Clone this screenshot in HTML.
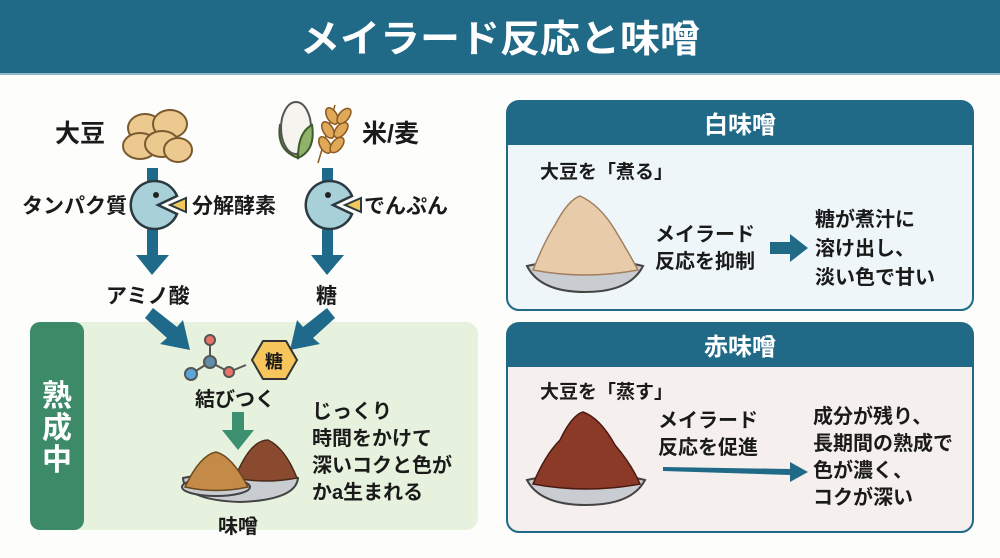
<!DOCTYPE html>
<html><head><meta charset="utf-8"><style>
html,body{margin:0;padding:0;background:#fdfdfb;}
svg{display:block;}
text{font-family:"Liberation Sans","Noto Sans CJK JP",sans-serif;font-weight:bold;fill:#1a1a1a;}
</style></head><body>
<svg width="1000" height="558" viewBox="0 0 1000 558" xmlns="http://www.w3.org/2000/svg">
<rect width="1000" height="558" fill="#fdfdfb"/>
<!-- header -->
<rect x="0" y="0" width="1000" height="73" fill="#206a88"/>
<rect x="0" y="73" width="1000" height="2" fill="#8fb7c6"/>
<text x="500" y="52" text-anchor="middle" font-size="38" style="fill:#fff" textLength="400" lengthAdjust="spacingAndGlyphs">メイラード反応と味噌</text>

<!-- left top labels -->
<text x="55" y="142" font-size="25">大豆</text>
<g stroke="#7a5a30" stroke-width="2" fill="#ecc98f">
<ellipse cx="145" cy="128" rx="17" ry="14"/><ellipse cx="170" cy="124" rx="17" ry="14"/>
<ellipse cx="140" cy="146" rx="17" ry="13"/><ellipse cx="162" cy="144" rx="17" ry="13"/>
<ellipse cx="178" cy="150" rx="14" ry="12"/>
</g>
<!-- rice & wheat -->
<path d="M280 125 Q276 150 298 158 Q296 132 280 125Z" fill="#8fb36a" stroke="#3e5b2c" stroke-width="2"/>
<ellipse cx="296" cy="128" rx="15" ry="26" fill="#f6f4ee" stroke="#555" stroke-width="2"/>
<path d="M312 125 Q316 150 298 158 Q298 132 312 125Z" fill="#8fb36a" stroke="#3e5b2c" stroke-width="2"/>
<g fill="#e0a95a" stroke="#8a5a20" stroke-width="1.5">
<line x1="318" y1="163" x2="335" y2="105" stroke="#8a5a20"/>
<ellipse cx="325" cy="145" rx="5" ry="9" transform="rotate(-30 325 145)"/><ellipse cx="337" cy="145" rx="5" ry="9" transform="rotate(40 337 145)"/>
<ellipse cx="328" cy="130" rx="5" ry="9" transform="rotate(-30 328 130)"/><ellipse cx="341" cy="130" rx="5" ry="9" transform="rotate(40 341 130)"/>
<ellipse cx="332" cy="116" rx="5" ry="9" transform="rotate(-30 332 116)"/><ellipse cx="344" cy="116" rx="5" ry="9" transform="rotate(40 344 116)"/>
</g>
<text x="362" y="142" font-size="25">米/麦</text>

<!-- vertical arrows -->
<g fill="#1f6a8a">
<rect x="147" y="168" width="11" height="90"/><polygon points="136,255 169,255 152,275"/>
<rect x="322" y="168" width="11" height="90"/><polygon points="311,255 344,255 327,275"/>
</g>
<!-- pacmen -->
<g stroke="#2a3a40" stroke-width="2.5">
<path d="M177 196 A24 24 0 1 0 177 214 L158 205 Z" fill="#a7d0d8"/>
<path d="M352 196 A24 24 0 1 0 352 214 L333 205 Z" fill="#a7d0d8"/>
<polygon points="170,205 186,198 186,212" fill="#f3c85a" stroke-width="2"/>
<polygon points="345,205 361,198 361,212" fill="#f3c85a" stroke-width="2"/>
</g>
<circle cx="156" cy="195" r="3" fill="#222"/><circle cx="328" cy="195" r="3" fill="#222"/>
<text x="22" y="213" font-size="21">タンパク質</text>
<text x="192" y="213" font-size="21">分解酵素</text>
<text x="364" y="213" font-size="21">でんぷん</text>
<text x="106" y="303" font-size="21">アミノ酸</text>
<text x="316" y="303" font-size="21">糖</text>

<!-- green box -->
<rect x="30" y="322" width="448" height="208" rx="12" fill="#e6f2de"/>
<rect x="30" y="322" width="54" height="208" rx="10" fill="#3c8a68"/>
<text x="57" y="406" font-size="30" text-anchor="middle" style="fill:#fff">熟</text>
<text x="57" y="438" font-size="30" text-anchor="middle" style="fill:#fff">成</text>
<text x="57" y="470" font-size="30" text-anchor="middle" style="fill:#fff">中</text>

<!-- diagonal arrows -->
<g fill="#1f6a8a">
<polygon points="153,308 177,327 183,320 190,350 160,344 167,338 145,318"/>
<polygon points="327,308 303,327 297,320 290,350 320,344 313,338 335,318"/>
</g>
<!-- molecule -->
<g stroke="#555" stroke-width="2">
<line x1="210" y1="342" x2="210" y2="362"/><line x1="210" y1="362" x2="191" y2="374"/>
<line x1="210" y1="362" x2="229" y2="372"/><line x1="229" y1="372" x2="246" y2="365"/>
<circle cx="210" cy="340" r="5" fill="#e8736a"/><circle cx="210" cy="362" r="6" fill="#5f8fa8"/>
<circle cx="191" cy="374" r="6" fill="#5aa6d8"/><circle cx="229" cy="372" r="5" fill="#e8736a"/>
</g>
<polygon points="252,360 263,341 286,341 297,360 286,379 263,379" fill="#f6c55c" stroke="#333" stroke-width="2"/>
<text x="274" y="368" font-size="18" text-anchor="middle">糖</text>
<text x="195" y="406" font-size="20">結びつく</text>
<g fill="#3c9070"><rect x="232" y="412" width="12" height="20"/><polygon points="222,430 254,430 238,450"/></g>
<!-- miso bowls -->
<path d="M183 478 Q240 465 298 478 Q296 500 240 502 Q184 500 183 478Z" fill="#c9ccd0" stroke="#444" stroke-width="2"/>
<path d="M235 478 Q250 440 268 440 Q285 448 297 478 Q266 484 235 478Z" fill="#8a4a30" stroke="#4a2a1a" stroke-width="1.5"/>
<ellipse cx="216" cy="487" rx="34" ry="9" fill="#c9ccd0" stroke="#444" stroke-width="2"/>
<path d="M185 487 Q200 455 216 452 Q232 456 248 487 Q216 494 185 487Z" fill="#c48a48" stroke="#6a4a20" stroke-width="1.5"/>
<text x="218" y="533" font-size="20">味噌</text>
<g font-size="20">
<text x="312" y="418">じっくり</text>
<text x="312" y="445">時間をかけて</text>
<text x="312" y="472">深いコクと色が</text>
<text x="312" y="499">かa生まれる</text>
</g>

<!-- white miso panel -->
<rect x="507" y="101" width="466" height="209" rx="12" fill="#eef6f9" stroke="#206a88" stroke-width="2"/>
<path d="M507 145 V113 Q507 101 519 101 H961 Q973 101 973 113 V145 Z" fill="#206a88"/>
<text x="740" y="133" font-size="24" text-anchor="middle" style="fill:#fff">白味噌</text>
<text x="540" y="178" font-size="19">大豆を「煮る」</text>
<path d="M527 266 Q540 292 585 292 Q630 292 643 266 Q585 252 527 266Z" fill="#c9ccd0" stroke="#444" stroke-width="2"/>
<path d="M533 270 Q545 240 555 225 Q568 200 580 196 Q600 205 615 230 Q630 255 638 270 Q585 280 533 270Z" fill="#e8cba8" stroke="#a08060" stroke-width="1.5"/>
<g font-size="20"><text x="655" y="241">メイラード</text><text x="655" y="268">反応を抑制</text></g>
<g fill="#206a88"><rect x="770" y="242" width="22" height="12"/><polygon points="790,234 808,248 790,262"/></g>
<g font-size="20"><text x="815" y="226">糖が煮汁に</text><text x="815" y="255">溶け出し、</text><text x="815" y="284">淡い色で甘い</text></g>

<!-- red miso panel -->
<rect x="507" y="323" width="466" height="209" rx="12" fill="#f5f0ee" stroke="#206a88" stroke-width="2"/>
<path d="M507 367 V335 Q507 323 519 323 H961 Q973 323 973 335 V367 Z" fill="#206a88"/>
<text x="740" y="355" font-size="24" text-anchor="middle" style="fill:#fff">赤味噌</text>
<text x="540" y="398" font-size="19">大豆を「蒸す」</text>
<path d="M527 480 Q540 505 586 505 Q632 505 645 480 Q586 466 527 480Z" fill="#c9ccd0" stroke="#444" stroke-width="2"/>
<path d="M533 484 Q545 455 560 440 Q572 415 583 412 Q600 418 615 445 Q632 465 640 484 Q586 494 533 484Z" fill="#8c3a28" stroke="#4a1a10" stroke-width="1.5"/>
<g font-size="20"><text x="658" y="427">メイラード</text><text x="658" y="454">反応を促進</text></g>
<polygon points="663,467 790,469 790,462 808,472 790,482 790,475 663,471" fill="#206a88"/>
<g font-size="20"><text x="813" y="423">成分が残り、</text><text x="813" y="450">長期間の熟成で</text><text x="813" y="477">色が濃く、</text><text x="813" y="504">コクが深い</text></g>
</svg>
</body></html>
